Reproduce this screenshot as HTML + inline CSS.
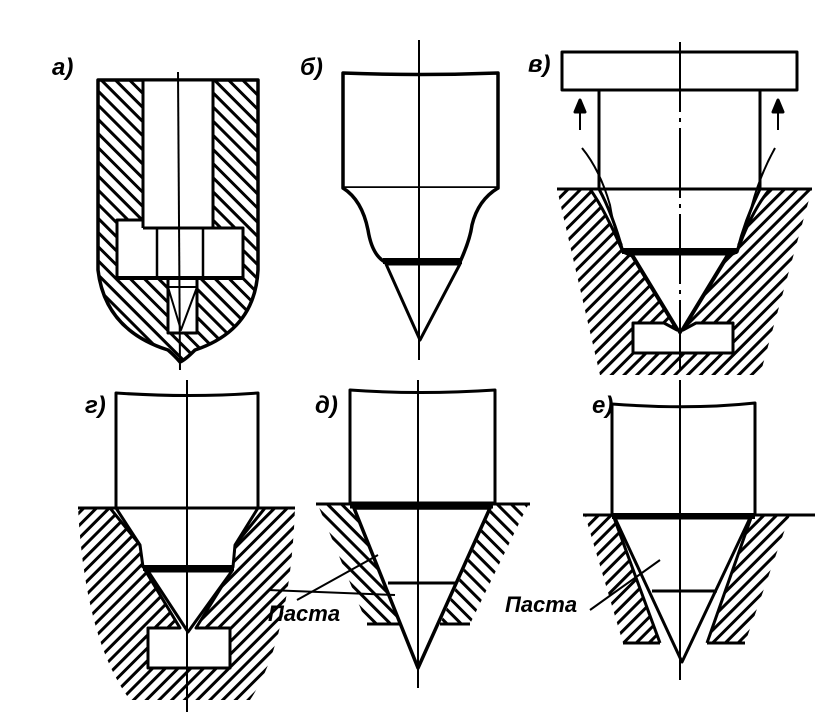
<!DOCTYPE html>
<html><head><meta charset="utf-8"><style>
html,body{margin:0;padding:0;background:#fff;}
svg{display:block;}
text{font-family:"Liberation Sans",sans-serif;font-style:italic;font-weight:bold;fill:#000;}
</style></head><body>
<svg width="827" height="724" viewBox="0 0 827 724" xmlns="http://www.w3.org/2000/svg">
<defs>
<pattern id="h1" width="10" height="10" patternUnits="userSpaceOnUse" patternTransform="rotate(-45)">
<rect x="3.5" y="0" width="3" height="10" fill="#000"/></pattern>
<pattern id="h2" width="9" height="9" patternUnits="userSpaceOnUse" patternTransform="rotate(45)">
<rect x="3" y="0" width="3" height="9" fill="#000"/></pattern>
</defs>
<g stroke="#000" stroke-width="3" fill="none" stroke-linejoin="round">

<!-- a) -->
<text x="52" y="75" font-size="24" stroke="none">а)</text>
<path d="M98,80 L258,80 L258,270 Q255,330 195,350 Q185,360 180,362 Q175,356 168,350 Q105,330 98,270 Z" fill="url(#h1)" stroke-width="3.5"/>
<path d="M143,80 L213,80 L213,228 L243,228 L243,278 L197,278 L197,333 L168,333 L168,278 L117,278 L117,220 L143,220 Z" fill="#fff"/>
<line x1="143" y1="220" x2="143" y2="228"/>
<line x1="143" y1="228" x2="213" y2="228"/>
<line x1="157" y1="228" x2="157" y2="278" stroke-width="2.5"/>
<line x1="203" y1="228" x2="203" y2="278" stroke-width="2.5"/>
<line x1="117" y1="278" x2="243" y2="278" stroke-width="4"/>
<path d="M168,287 L197,287 L181,330 Z" stroke-width="2"/>
<line x1="178" y1="72" x2="180" y2="370" stroke-width="2"/>

<!-- б) -->
<text x="300" y="75" font-size="24" stroke="none">б)</text>
<path d="M343,73 Q420,76 498,73 L498,188 L343,188 Z" fill="#fff" stroke-width="3.5"/>
<path d="M343,188 Q362,200 368,230 Q372,255 385,262 L460,262 Q470,240 472,225 Q478,200 498,188" fill="#fff" stroke-width="3.5"/>
<line x1="383" y1="261" x2="462" y2="261" stroke-width="6"/>
<path d="M386,264 L460,264 L420,340 Z" fill="#fff"/>
<line x1="419" y1="40" x2="419" y2="360" stroke-width="2"/>

<!-- в) -->
<text x="528" y="72" font-size="24" stroke="none">в)</text>
<rect x="562" y="52" width="235" height="38" fill="#fff"/>
<path d="M557,189 L590,189 Q605,210 623,252 L632,256 L677,330 L664,323 L633,323 L633,353 L733,353 L733,323 L696,323 L683,330 L728,256 L737,252 Q752,210 770,189 L812,189 L760,375 L600,375 Z" fill="url(#h2)" stroke="none"/>
<path d="M590,189 Q605,210 623,252 L632,256 L677,330 L664,323 L633,323 L633,353 L733,353 L733,323 L696,323 L683,330 L728,256 L737,252 Q752,210 770,189"/>
<line x1="557" y1="189" x2="600" y2="189"/>
<line x1="760" y1="189" x2="812" y2="189"/>
<rect x="599" y="90" width="161" height="99" fill="#fff"/>
<path d="M599,189 L760,189 Q745,220 737,252 L623,252 Q613,215 599,189 Z" fill="#fff"/>
<line x1="622" y1="251" x2="737" y2="251" stroke-width="6"/>
<path d="M632,254 L728,254 L680,333 Z" fill="#fff"/>
<path d="M582,148 Q600,170 610,205 Q615,235 622,245" stroke-width="2"/>
<path d="M775,148 Q760,175 752,205 Q745,235 738,245" stroke-width="2"/>
<line x1="580" y1="130" x2="580" y2="105" stroke-width="2"/>
<path d="M575,112 L580,100 L585,112 Z" fill="#000"/>
<line x1="778" y1="130" x2="778" y2="105" stroke-width="2"/>
<path d="M773,112 L778,100 L783,112 Z" fill="#000"/>
<line x1="680" y1="42" x2="680" y2="372" stroke-width="2" stroke-dasharray="70,6,4,6"/>

<!-- г) -->
<text x="85" y="413" font-size="24" stroke="none">г)</text>
<path d="M78,508 L110,508 L140,545 L145,570 L180,628 L148,628 L148,668 L230,668 L230,628 L196,628 L232,570 L235,545 L265,508 L295,508 Q290,640 250,700 L130,700 Q85,640 78,508 Z" fill="url(#h2)" stroke="none"/>
<path d="M110,508 L140,545 L145,570 L180,628 L148,628 L148,668 L230,668 L230,628 L196,628 L232,570 L235,545 L265,508"/>
<line x1="78" y1="508" x2="116" y2="508"/>
<line x1="258" y1="508" x2="295" y2="508"/>
<path d="M116,393 Q190,398 258,393 L258,508 L116,508 Z" fill="#fff"/>
<path d="M116,508 L258,508 L235,545 L233,567 L143,567 L140,545 Z" fill="#fff"/>
<line x1="143" y1="568" x2="234" y2="568" stroke-width="6"/>
<path d="M148,571 L232,571 L188,632 Z" fill="#fff"/>
<line x1="187" y1="380" x2="187" y2="712" stroke-width="2"/>

<!-- д) -->
<text x="315" y="413" font-size="24" stroke="none">д)</text>
<path d="M318,505 L352,505 L400,624 L367,624 Z" fill="url(#h1)" stroke="none"/>
<path d="M493,505 L528,505 L470,624 L440,624 Z" fill="url(#h1)" stroke="none"/>
<line x1="367" y1="624" x2="400" y2="624"/>
<line x1="440" y1="624" x2="470" y2="624"/>
<path d="M350,390 Q420,395 495,390 L495,503 L350,503 Z" fill="#fff"/>
<line x1="316" y1="504" x2="530" y2="504" stroke-width="3"/>
<line x1="350" y1="505" x2="493" y2="505" stroke-width="7"/>
<path d="M354,508 L490,508 L418,668 Z" fill="#fff" stroke-width="3.5"/>
<line x1="388" y1="583" x2="455" y2="583"/>
<line x1="418" y1="380" x2="418" y2="688" stroke-width="2"/>
<line x1="297" y1="600" x2="378" y2="555" stroke-width="2"/>
<line x1="268" y1="590" x2="395" y2="595" stroke-width="2"/>
<text x="268" y="621" font-size="22" stroke="none">Паста</text>

<!-- е) -->
<text x="592" y="413" font-size="24" stroke="none">е)</text>
<path d="M585,515 L613,515 L660,643 L623,643 Z" fill="url(#h2)" stroke="none"/>
<path d="M752,515 L790,515 L745,643 L707,643 Z" fill="url(#h2)" stroke="none"/>
<line x1="623" y1="643" x2="660" y2="643"/>
<line x1="707" y1="643" x2="745" y2="643"/>
<line x1="660" y1="643" x2="613" y2="515"/>
<line x1="707" y1="643" x2="752" y2="515"/>
<path d="M612,404 Q690,410 755,403 L755,515 L612,515 Z" fill="#fff"/>
<line x1="583" y1="515" x2="815" y2="515" stroke-width="3"/>
<line x1="612" y1="516" x2="755" y2="516" stroke-width="6"/>
<path d="M615,518 L750,518 L682,662 Z" fill="#fff"/>
<line x1="652" y1="591" x2="717" y2="591"/>
<line x1="680" y1="380" x2="680" y2="680" stroke-width="2"/>
<line x1="590" y1="610" x2="660" y2="560" stroke-width="2"/>
<text x="505" y="612" font-size="22" stroke="none">Паста</text>
</g>
</svg>
</body></html>
